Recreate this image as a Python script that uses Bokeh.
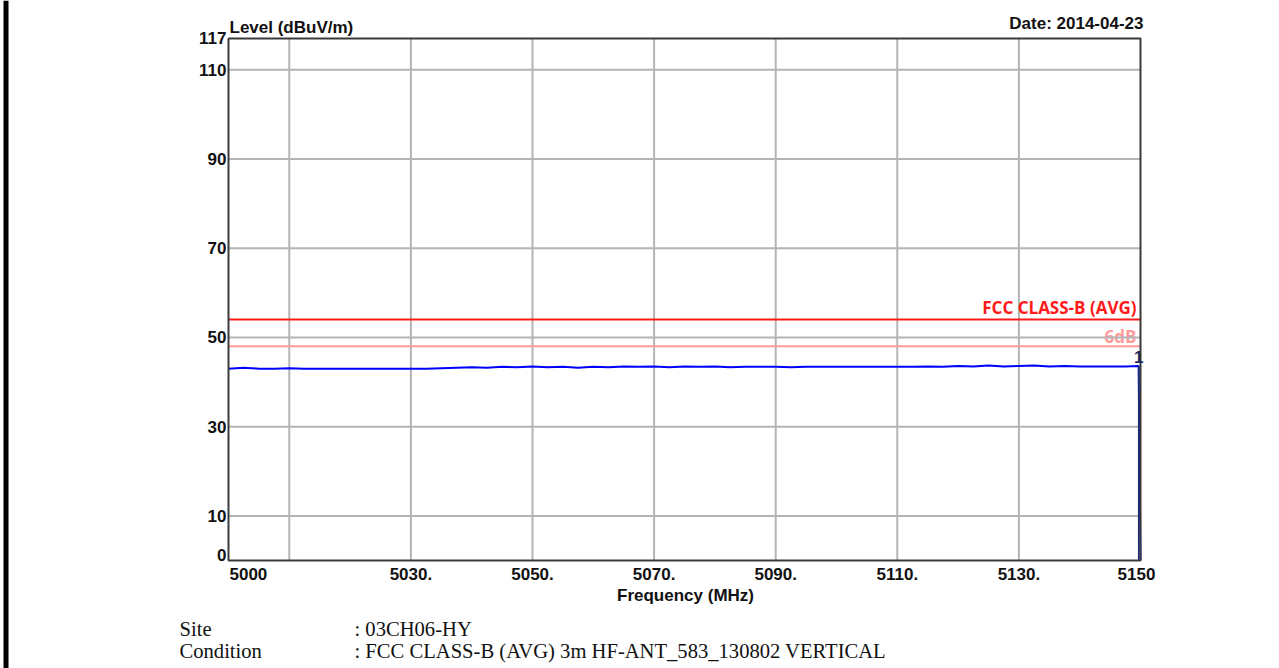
from bokeh.plotting import figure
from bokeh.models import Label, BoxAnnotation, Range1d
from bokeh.core.properties import value
from bokeh.embed import file_html
from bokeh.resources import INLINE

# ---- data ----
freq = [5000, 5002.5, 5005, 5007.5, 5010, 5012.5, 5015, 5017.5, 5020, 5022.5,
        5025, 5027.5, 5030, 5032.5, 5035, 5037.5, 5040, 5042.5, 5045, 5047.5,
        5050, 5052.5, 5055, 5057.5, 5060, 5062.5, 5065, 5067.5, 5070, 5072.5,
        5075, 5077.5, 5080, 5082.5, 5085, 5087.5, 5090, 5092.5, 5095, 5097.5,
        5100, 5102.5, 5105, 5107.5, 5110, 5112.5, 5115, 5117.5, 5120, 5122.5,
        5125, 5127.5, 5130, 5132.5, 5135, 5137.5, 5140, 5142.5, 5145, 5147.5,
        5149.7, 5150]
level = [43.0, 43.2, 43.0, 43.0, 43.1, 43.0, 43.0, 43.0, 43.0, 43.0,
         43.0, 43.0, 43.0, 43.0, 43.1, 43.2, 43.3, 43.2, 43.4, 43.3,
         43.5, 43.3, 43.4, 43.2, 43.4, 43.3, 43.5, 43.4, 43.5, 43.3,
         43.5, 43.4, 43.5, 43.3, 43.4, 43.4, 43.4, 43.3, 43.4, 43.4,
         43.4, 43.4, 43.4, 43.4, 43.4, 43.4, 43.5, 43.4, 43.6, 43.5,
         43.7, 43.5, 43.6, 43.7, 43.5, 43.6, 43.5, 43.5, 43.5, 43.5,
         43.6, 0.0]
limit_freq = [5000, 5150]
limit_avg = [54, 54]
limit_margin = [48, 48]
marker_freq = 5149.7
marker_level = 43.6
marker_name = "1"

x_tick_values = [5000, 5030, 5050, 5070, 5090, 5110, 5130, 5150]
x_tick_labels = ["5000", "5030.", "5050.", "5070.", "5090.", "5110.", "5130.", "5150"]
x_grid_values = [5010, 5030, 5050, 5070, 5090, 5110, 5130]
y_tick_values = [0, 10, 30, 50, 70, 90, 110, 117]
y_grid_values = [10, 30, 50, 70, 90, 110]
x_min, x_max = 5000, 5150
y_min, y_max = 0, 117

# ---- layout (pixels) ----
W, H = 1279, 668
FL, FR, FT, FB = 228, 1140, 38, 560   # plot box edges on the canvas
sx = (FR - FL) / (x_max - x_min)
sy = (FB - FT) / (y_max - y_min)

FONT = "Liberation Sans"
TXT = "#111111"

p = figure(width=W, height=H, output_backend="svg", toolbar_location=None,
           x_range=Range1d(x_min - FL / sx, x_max + (W - FR) / sx),
           y_range=Range1d(y_min - (H - FB) / sy, y_max + FT / sy),
           min_border=0, min_border_left=0, min_border_right=0,
           min_border_top=0, min_border_bottom=0)
p.xaxis.visible = False
p.yaxis.visible = False
p.xgrid.visible = False
p.ygrid.visible = False
p.outline_line_color = None
p.background_fill_color = "white"
p.border_fill_color = "white"

# 6dB text drawn under the grid (grid passes over it in the reference)
p.text(x=[x_max], y=[limit_margin[1]], text=["6dB"], text_align="right",
       text_baseline="bottom", x_offset=-4, y_offset=2,
       text_font=value("Open Sans"), text_font_style="bold",
       text_font_size="17px", text_color="#ff9a9a")

GRID = "#b4b4b4"
p.segment(x0=x_grid_values, y0=[y_min] * len(x_grid_values),
          x1=x_grid_values, y1=[y_max] * len(x_grid_values),
          line_color=GRID, line_width=2)
p.segment(x0=[x_min] * len(y_grid_values), y0=y_grid_values,
          x1=[x_max] * len(y_grid_values), y1=y_grid_values,
          line_color=GRID, line_width=2)

p.line(limit_freq, limit_avg, line_color="#ff1a1a", line_width=2)
p.line(limit_freq, limit_margin, line_color="#ff9a9a", line_width=2)
p.line(freq, level, line_color="#0000ff", line_width=2)
p.segment(x0=[marker_freq], y0=[0], x1=[marker_freq], y1=[marker_level],
          line_color="#1a2a6a", line_width=1.5)

# plot box
p.quad(left=[x_min], right=[x_max], bottom=[y_min], top=[y_max],
       fill_alpha=0, line_color="#3a3a3a", line_width=2)

# tick labels
for v, t in zip(x_tick_values, x_tick_labels):
    align = "left" if v == x_tick_values[0] else "center"
    off = 1 if v == x_tick_values[0] else (-4 if v == x_tick_values[-1] else 0)
    p.add_layout(Label(x=v, y=y_min, text=t, text_align=align, text_baseline="middle",
                       x_offset=off, y_offset=-13, text_font=FONT, text_font_style="bold",
                       text_font_size="17px", text_color=TXT))
for v in y_tick_values:
    yo = 6 if v == 0 else (1 if v == 117 else 0)
    p.add_layout(Label(x=x_min, y=v, text=str(v), text_align="right", text_baseline="middle",
                       x_offset=-2, y_offset=yo, text_font=FONT, text_font_style="bold",
                       text_font_size="17px", text_color=TXT))

p.add_layout(Label(x=x_min, y=y_max, text="Level (dBuV/m)", text_align="left",
                   text_baseline="bottom", x_offset=1, y_offset=2, text_font=FONT,
                   text_font_style="bold", text_font_size="17px", text_color=TXT))
p.add_layout(Label(x=x_max, y=y_max, text="Date: 2014-04-23", text_align="right",
                   text_baseline="bottom", x_offset=3, y_offset=6, text_font=FONT,
                   text_font_style="bold", text_font_size="17px", text_color=TXT))
p.add_layout(Label(x=(x_min + x_max) / 2, y=y_min, text="Frequency (MHz)", text_align="center",
                   text_baseline="middle", x_offset=1, y_offset=-35, text_font=FONT,
                   text_font_style="bold", text_font_size="17px", text_color=TXT))

p.add_layout(Label(x=x_max, y=limit_avg[1], text="FCC CLASS-B (AVG)", text_align="right",
                   text_baseline="bottom", x_offset=-4, y_offset=1, text_font="Open Sans",
                   text_font_style="bold", text_font_size="17px", text_color="#ff1a1a"))
p.add_layout(Label(x=marker_freq, y=marker_level, text=marker_name, text_align="center",
                   text_baseline="bottom", x_offset=0, y_offset=3, text_font=FONT,
                   text_font_style="bold", text_font_size="17px", text_color="#1a2a5a"))

# footer
SERIF = "Liberation Serif"
footer = [("Site", ": 03CH06-HY", 628),
          ("Condition", ": FCC CLASS-B (AVG) 3m HF-ANT_583_130802 VERTICAL", 650)]
for k, v, yy in footer:
    p.add_layout(Label(x=179, y=yy, x_units="canvas", y_units="canvas", text=k,
                       text_baseline="middle", text_font=SERIF, text_font_size="20.6px",
                       text_color=TXT))
    p.add_layout(Label(x=354, y=yy, x_units="canvas", y_units="canvas", text=v,
                       text_baseline="middle", text_font=SERIF, text_font_size="20.6px",
                       text_color=TXT))

# left page edge bar
p.add_layout(BoxAnnotation(left=3, right=8, top=0, bottom=H, left_units="canvas",
                           right_units="canvas", top_units="canvas", bottom_units="canvas",
                           fill_color="black", fill_alpha=1, line_alpha=0))

open("out.html", "w").write(file_html(p, INLINE))
